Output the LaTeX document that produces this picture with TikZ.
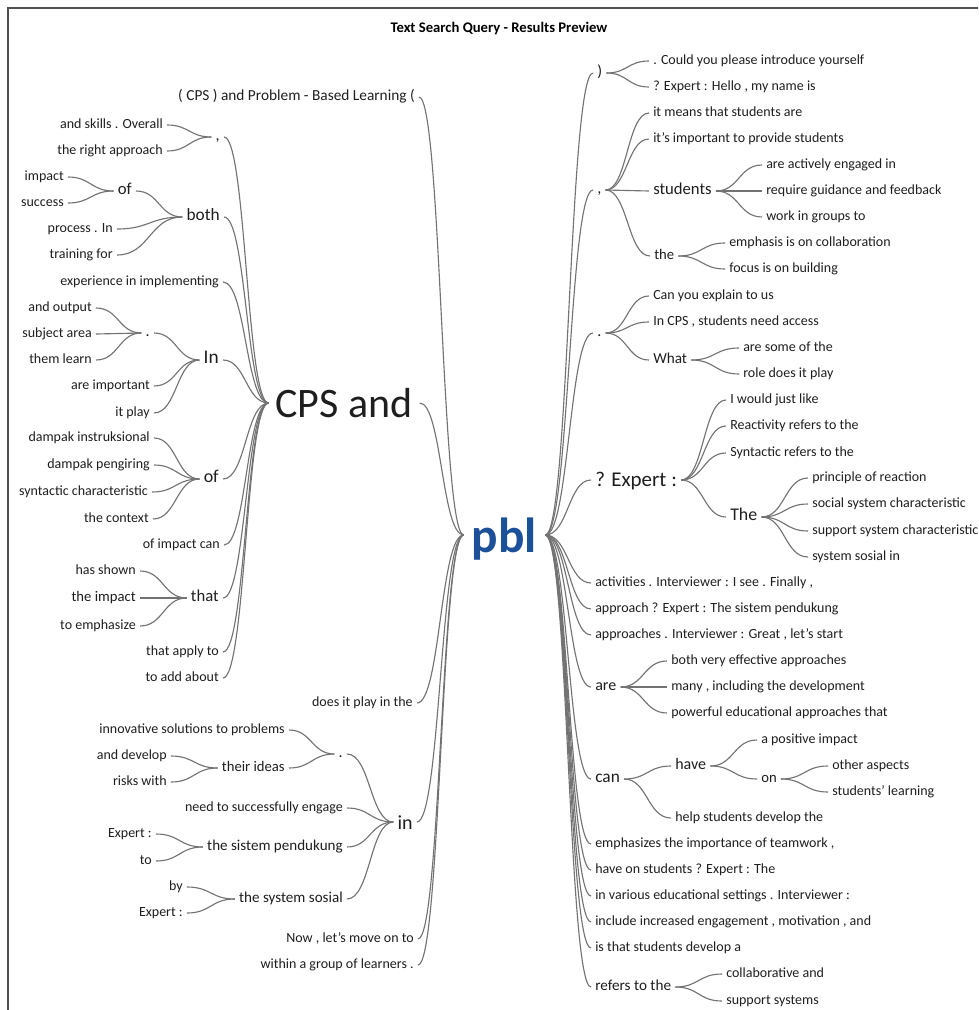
\documentclass[tikz,border=0pt]{standalone}
\usepackage{fontspec}
\setmainfont{Carlito}
\usetikzlibrary{calc}
\definecolor{pblblue}{RGB}{28,80,152}
\definecolor{linecol}{RGB}{115,115,115}
\definecolor{txt}{RGB}{30,30,30}
\definecolor{framecol}{RGB}{80,80,80}
\tikzset{
 every node/.style={inner ysep=0pt, inner xsep=3pt, text=txt, text height=4.7pt, text depth=0pt},
 R/.style={anchor=west, xshift=-3pt},
 L/.style={anchor=east, xshift=3pt},
 lf/.style={font=\fontsize{10.5}{12}\selectfont},
 fs/.style={font=\fontsize{#1}{#1}\selectfont},
 conn/.style={draw=linecol, line width=0.85pt, to path={let \p1=(\tikztostart), \p2=(\tikztotarget), \n1={0.5*(\x2-\x1)} in .. controls ({\x1+\n1},\y1) and ({\x2-\n1},\y2) .. (\tikztotarget)}},
}
\begin{document}
\begin{tikzpicture}[x=0.75pt,y=-0.75pt]
\useasboundingbox (0,0) rectangle (978,1010);
\clip (0,0) rectangle (978,1010);
\draw[framecol, line width=1.1pt] (8,1012) -- (8,8) -- (980,8);
\node[font=\bfseries\fontsize{11}{12}\selectfont, text=black, anchor=center] (title) at (499,29) {Text Search Query - Results Preview};

% root
\node[font=\bfseries\fontsize{37}{37}\selectfont, text=pblblue, inner xsep=6pt, anchor=center, text height=26pt, text depth=0.5pt] (pbl) at (504.5,535) {pbl};

% ---------- left side ----------
\node[L,fs=11.5] (l1) at (415,97) {( CPS ) and Problem - Based Learning (};
\node[L,fs=31.5, inner xsep=5pt, xshift=2pt, text height=21.5pt, text depth=0.5pt] (cps) at (413,403) {CPS and};
\node[L,lf] (l3) at (413,703) {does it play in the};
\node[L,fs=15, text height=11pt, text depth=0.5pt] (in) at (413,822) {in};
\node[L,lf] (l5) at (414,939) {Now , let's move on to};
\node[L,lf] (l6) at (414,965) {within a group of learners .};

% CPS and children
\node[L,fs=12] (c1) at (220,137) {,};
\node[L,fs=13] (c2) at (220,217) {both};
\node[L,lf] (c3) at (219,282) {experience in implementing};
\node[L,fs=14.5] (c4) at (219,360) {In};
\node[L,fs=13.5] (c5) at (219,479) {of};
\node[L,lf] (c6) at (220,545) {of impact can};
\node[L,fs=12.5] (c7) at (219,598) {that};
\node[L,lf] (c8) at (219,652) {that apply to};
\node[L,lf] (c9) at (219,678) {to add about};

\node[L,lf] (c1a) at (163,125) {and skills . Overall};
\node[L,lf] (c1b) at (163,151) {the right approach};

\node[L,fs=12.5] (c2a) at (132,191) {of};
\node[L,lf] (c2b) at (113,229) {process . In};
\node[L,lf] (c2c) at (113,255) {training for};
\node[L,lf] (c2aa) at (64,177) {impact};
\node[L,lf] (c2ab) at (64,203) {success};

\node[L,fs=12] (c4a) at (150,333) {.};
\node[L,lf] (c4b) at (150,386) {are important};
\node[L,lf] (c4c) at (150,413) {it play};
\node[L,lf] (c4aa) at (92,308) {and output};
\node[L,lf] (c4ab) at (92,334) {subject area};
\node[L,lf] (c4ac) at (92,360) {them learn};

\node[L,lf] (c5a) at (150,438) {dampak instruksional};
\node[L,lf] (c5b) at (150,465) {dampak pengiring};
\node[L,lf] (c5c) at (148,492) {syntactic characteristic};
\node[L,lf] (c5d) at (149,519) {the context};

\node[L,lf] (c7a) at (136,571) {has shown};
\node[L,fs=11] (c7b) at (136,598) {the impact};
\node[L,lf] (c7c) at (136,626) {to emphasize};

% in children
\node[L,fs=12] (i1) at (343,754) {.};
\node[L,lf] (i2) at (343,808) {need to successfully engage};
\node[L,fs=11.3] (i3) at (343,847) {the sistem pendukung};
\node[L,fs=11.3] (i4) at (343,899) {the system sosial};
\node[L,lf] (i1a) at (285,730) {innovative solutions to problems};
\node[L,fs=11] (i1b) at (285,768) {their ideas};
\node[L,lf] (i1ba) at (167,756) {and develop};
\node[L,lf] (i1bb) at (167,782) {risks with};
\node[L,lf] (i3a) at (152,834) {Expert :};
\node[L,lf] (i3b) at (152,861) {to};
\node[L,lf] (i4a) at (183,887) {by};
\node[L,lf] (i4b) at (183,913) {Expert :};

% ---------- right side ----------
\node[R,fs=12] (r1) at (597,73) {)};
\node[R,fs=12] (r2) at (597,190) {,};
\node[R,fs=12] (r3) at (597,333) {.};
\node[R,fs=15.75, text height=9.5pt, text depth=0.5pt] (r4) at (595,480) {? Expert :};
\node[R,lf] (r5) at (595,583) {activities . Interviewer : I see . Finally ,};
\node[R,lf] (r6) at (595,609) {approach ? Expert : The sistem pendukung};
\node[R,lf] (r7) at (595,635) {approaches . Interviewer : Great , let's start};
\node[R,fs=12] (r8) at (595,687) {are};
\node[R,fs=13] (r9) at (595,779) {can};
\node[R,lf] (r10) at (595,844) {emphasizes the importance of teamwork ,};
\node[R,lf] (r11) at (595,870) {have on students ? Expert : The};
\node[R,lf] (r12) at (595,896) {in various educational settings . Interviewer :};
\node[R,lf] (r13) at (595,922) {include increased engagement , motivation , and};
\node[R,lf] (r14) at (595,948) {is that students develop a};
\node[R,fs=11.4] (r15) at (595,987) {refers to the};

\node[R,lf] (r1a) at (653,61) {. Could you please introduce yourself};
\node[R,lf] (r1b) at (653,87) {? Expert : Hello , my name is};

\node[R,lf] (r2a) at (653,113) {it means that students are};
\node[R,lf] (r2b) at (653,139) {it's important to provide students};
\node[R,fs=12.5] (r2c) at (653,191) {students};
\node[R,fs=11] (r2d) at (654,256) {the};
\node[R,lf] (r2ca) at (766,165) {are actively engaged in};
\node[R,lf] (r2cb) at (766,191) {require guidance and feedback};
\node[R,lf] (r2cc) at (766,217) {work in groups to};
\node[R,lf] (r2da) at (729,243) {emphasis is on collaboration};
\node[R,lf] (r2db) at (729,269) {focus is on building};

\node[R,lf] (r3a) at (653,296) {Can you explain to us};
\node[R,lf] (r3b) at (653,322) {In CPS , students need access};
\node[R,fs=11.4] (r3c) at (653,360) {What};
\node[R,lf] (r3ca) at (743,348) {are some of the};
\node[R,lf] (r3cb) at (743,374) {role does it play};

\node[R,lf] (r4a) at (730,400) {I would just like};
\node[R,lf] (r4b) at (730,426) {Reactivity refers to the};
\node[R,lf] (r4c) at (730,453) {Syntactic refers to the};
\node[R,fs=13.4] (r4d) at (730,517) {The};
\node[R,lf] (r4da) at (812,478) {principle of reaction};
\node[R,lf] (r4db) at (812,504) {social system characteristic};
\node[R,lf] (r4dc) at (812,531) {support system characteristic};
\node[R,lf] (r4dd) at (812,557) {system sosial in};

\node[R,lf] (r8a) at (671,661) {both very effective approaches};
\node[R,lf] (r8b) at (671,687) {many , including the development};
\node[R,lf] (r8c) at (671,713) {powerful educational approaches that};

\node[R,fs=12] (r9a) at (675,766) {have};
\node[R,lf] (r9b) at (675,818) {help students develop the};
\node[R,lf] (r9aa) at (761,740) {a positive impact};
\node[R,fs=11] (r9ab) at (761,779) {on};
\node[R,lf] (r9aba) at (832,766) {other aspects};
\node[R,lf] (r9abb) at (832,792) {students' learning};

\node[R,lf] (r15a) at (726,974) {collaborative and};
\node[R,lf] (r15b) at (726,1001) {support systems};

% ---------- connectors ----------
\foreach \c in {l1,cps,l3,in,l5,l6} \draw[conn] (pbl.west) to (\c.east);
\foreach \c in {c1,c2,c3,c4,c5,c6,c7,c8,c9} \draw[conn] (cps.west) to (\c.east);
\foreach \c in {c1a,c1b} \draw[conn] (c1.west) to (\c.east);
\foreach \c in {c2a,c2b,c2c} \draw[conn] (c2.west) to (\c.east);
\foreach \c in {c2aa,c2ab} \draw[conn] (c2a.west) to (\c.east);
\foreach \c in {c4a,c4b,c4c} \draw[conn] (c4.west) to (\c.east);
\foreach \c in {c4aa,c4ab,c4ac} \draw[conn] (c4a.west) to (\c.east);
\foreach \c in {c5a,c5b,c5c,c5d} \draw[conn] (c5.west) to (\c.east);
\foreach \c in {c7a,c7b,c7c} \draw[conn] (c7.west) to (\c.east);
\foreach \c in {i1,i2,i3,i4} \draw[conn] (in.west) to (\c.east);
\foreach \c in {i1a,i1b} \draw[conn] (i1.west) to (\c.east);
\foreach \c in {i1ba,i1bb} \draw[conn] (i1b.west) to (\c.east);
\foreach \c in {i3a,i3b} \draw[conn] (i3.west) to (\c.east);
\foreach \c in {i4a,i4b} \draw[conn] (i4.west) to (\c.east);

\foreach \c in {r1,r2,r3,r4,r5,r6,r7,r8,r9,r10,r11,r12,r13,r14,r15} \draw[conn] (pbl.east) to (\c.west);
\foreach \c in {r1a,r1b} \draw[conn] (r1.east) to (\c.west);
\foreach \c in {r2a,r2b,r2c,r2d} \draw[conn] (r2.east) to (\c.west);
\foreach \c in {r2ca,r2cb,r2cc} \draw[conn] (r2c.east) to (\c.west);
\foreach \c in {r2da,r2db} \draw[conn] (r2d.east) to (\c.west);
\foreach \c in {r3a,r3b,r3c} \draw[conn] (r3.east) to (\c.west);
\foreach \c in {r3ca,r3cb} \draw[conn] (r3c.east) to (\c.west);
\foreach \c in {r4a,r4b,r4c,r4d} \draw[conn] (r4.east) to (\c.west);
\foreach \c in {r4da,r4db,r4dc,r4dd} \draw[conn] (r4d.east) to (\c.west);
\foreach \c in {r8a,r8b,r8c} \draw[conn] (r8.east) to (\c.west);
\foreach \c in {r9a,r9b} \draw[conn] (r9.east) to (\c.west);
\foreach \c in {r9aa,r9ab} \draw[conn] (r9a.east) to (\c.west);
\foreach \c in {r9aba,r9abb} \draw[conn] (r9ab.east) to (\c.west);
\foreach \c in {r15a,r15b} \draw[conn] (r15.east) to (\c.west);
\end{tikzpicture}
\end{document}
